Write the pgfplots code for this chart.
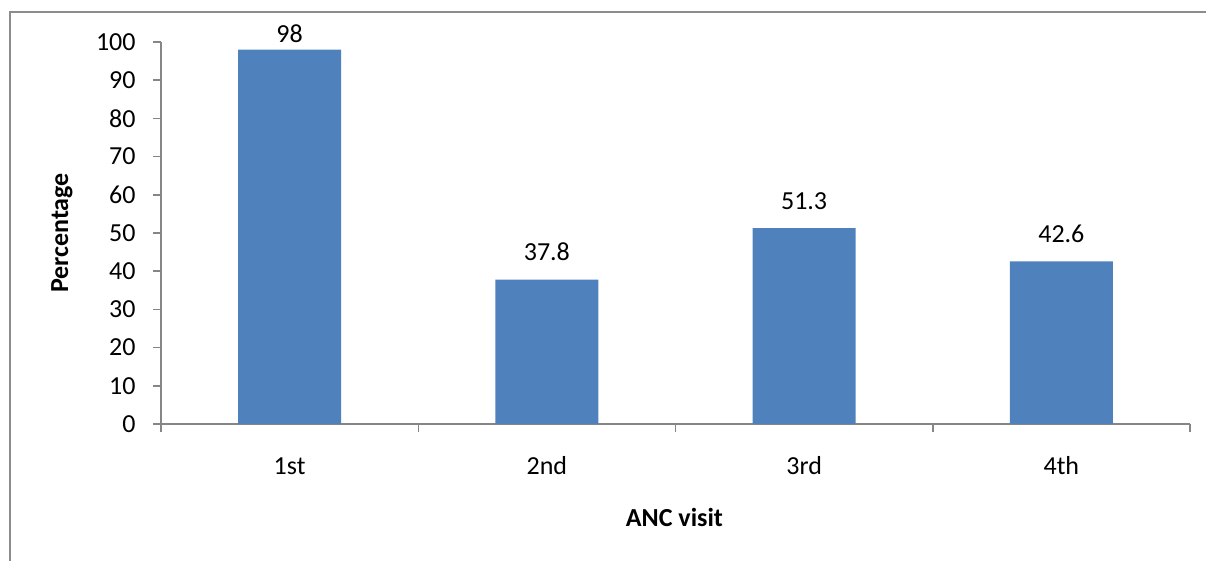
\documentclass[border=0pt]{standalone}
\usepackage{pgfplots}
\pgfplotsset{compat=1.18}
\usepackage{fontspec}
\setmainfont{Carlito}

\definecolor{barblue}{HTML}{4F81BD}
\definecolor{axisgray}{HTML}{868686}
\definecolor{framegray}{HTML}{8C8C8C}

\newcommand{\chartfont}{\fontsize{13}{15.6}\selectfont}

\begin{document}
\begin{tikzpicture}
  % page area: 603pt x 280.5pt (0.5pt per pixel)
  \useasboundingbox (0,0) rectangle (603pt,280.5pt);
  % outer chart frame
  \draw[framegray, line width=1pt] (5pt,-2pt) -- (5pt,274.5pt) -- (606pt,274.5pt);

  \begin{axis}[
    at={(80.5pt,68.5pt)}, anchor=south west,
    scale only axis,
    width=514.5pt, height=191pt,
    xmin=-0.5, xmax=3.5,
    ymin=0, ymax=100,
    axis lines*=left,
    axis line style={axisgray, line width=0.75pt},
    every tick/.style={axisgray, line width=0.75pt},
    tick align=outside,
    xtick={0,1,2,3},
    xticklabels={1st,2nd,3rd,4th},
    minor xtick={-0.5,0.5,1.5,2.5,3.5},
    major tick length=4pt,
    minor tick length=4pt,
    major x tick style={draw=none},
    ytick={0,10,...,100},
    /pgf/number format/assume math mode=true,
    tick label style={font=\chartfont, inner sep=0pt},
    yticklabel style={anchor=east, xshift=-8.5pt},
    xticklabel style={anchor=base, yshift=-21.5pt},
    xlabel={\textbf{ANC visit}},
    ylabel={\textbf{Percentage}},
    label style={font=\chartfont},
    xlabel style={at={(axis description cs:0.499,-0.246)}, anchor=center},
    ylabel style={at={(axis description cs:-0.0962,0.5)}, anchor=center},
    ybar,
    bar width=51.5pt,
    nodes near coords,
    visualization depends on={y \as \rawy},
    every node near coord/.append style={font=\chartfont, text=black, inner sep=0pt,
      anchor=base, yshift={ifthenelse(\rawy>90,3.5,9.5)}},
  ]
    \addplot[fill=barblue, draw=none] coordinates {
      (0,98) (1,37.8) (2,51.3) (3,42.6)
    };
  \end{axis}
\end{tikzpicture}
\end{document}
